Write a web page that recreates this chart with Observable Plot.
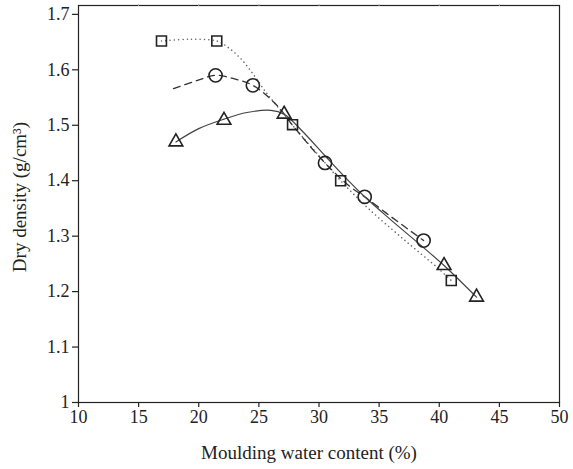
<!DOCTYPE html>
<html>
<head>
<meta charset="utf-8">
<script src="https://cdn.jsdelivr.net/npm/d3@7"></script>
<script src="https://cdn.jsdelivr.net/npm/@observablehq/plot@0.6"></script>
<style>
  html, body { margin: 0; padding: 0; background: #fff; }
  #chart svg { display: block; }
</style>
</head>
<body>
<div id="chart"></div>
<script>
// Tick values
const xTicks = [10, 15, 20, 25, 30, 35, 40, 45, 50];
const yTicks = [1, 1.1, 1.2, 1.3, 1.4, 1.5, 1.6, 1.7];

// Measured points (moulding water content %, dry density g/cm³)
const squareX = [16.9, 21.5, 27.8, 31.8, 41.0];
const squareY = [1.652, 1.652, 1.501, 1.400, 1.220];
const circleX = [21.4, 24.5, 30.5, 33.8, 38.7];
const circleY = [1.590, 1.572, 1.432, 1.371, 1.292];
const triangleX = [18.1, 22.1, 27.1, 40.4, 43.1];
const triangleY = [1.470, 1.509, 1.520, 1.247, 1.190];

// Fitted compaction curves
const dottedX = [16.9, 19.2, 21.5, 22.4, 23.5, 24.6, 25.5, 26.5, 27.8, 30.0, 31.8, 34.1, 37.0, 39.8, 41.0];
const dottedY = [1.652, 1.655, 1.652, 1.641, 1.620, 1.590, 1.562, 1.535, 1.500, 1.445, 1.400, 1.350, 1.295, 1.244, 1.220];
const dashedX = [17.9, 19.9, 21.4, 22.9, 24.5, 26.5, 27.8, 30.5, 32.6, 33.8, 36.0, 38.7];
const dashedY = [1.566, 1.581, 1.590, 1.584, 1.572, 1.536, 1.500, 1.432, 1.389, 1.371, 1.335, 1.292];
const solidX = [18.1, 20.0, 22.1, 24.0, 26.0, 27.1, 28.5, 30.5, 32.0, 33.8, 36.0, 38.5, 40.4, 43.1];
const solidY = [1.470, 1.494, 1.511, 1.523, 1.527, 1.520, 1.492, 1.445, 1.410, 1.371, 1.329, 1.283, 1.247, 1.190];

const zip = (xs, ys) => xs.map((x, i) => ({x, y: ys[i]}));

const ink = "#222";
const font = "'Liberation Serif', 'DejaVu Serif', serif";

const chart = Plot.plot({
  width: 573,
  height: 469,
  marginLeft: 78,
  marginRight: 14,
  marginTop: 5,
  marginBottom: 67,
  style: {fontFamily: font, fontSize: "18px", color: ink, background: "#fff"},
  x: {domain: [10, 50]},
  y: {domain: [1, 1.716]},
  marks: [
    Plot.frame({stroke: ink, strokeWidth: 1.2}),
    Plot.axisX({ticks: xTicks, tickSize: 5, tickPadding: 3, label: null, stroke: ink, strokeWidth: 1.2, fontSize: 18}),
    Plot.axisX({anchor: "top", ticks: xTicks.slice(1, -1), tickSize: 2, tickFormat: () => "", label: null, stroke: "#aaa"}),
    Plot.axisY({ticks: yTicks, tickSize: 6, tickPadding: 3, label: null, stroke: ink, strokeWidth: 1.2, fontSize: 18, tickFormat: d => d3.format("")(+d.toFixed(1))}),
    Plot.line(zip(dottedX, dottedY), {x: "x", y: "y", curve: "catmull-rom", stroke: "#666", strokeWidth: 1.5, strokeDasharray: "0.1 4.2", strokeLinecap: "round"}),
    Plot.line(zip(dashedX, dashedY), {x: "x", y: "y", curve: "catmull-rom", stroke: "#333", strokeWidth: 1.3, strokeDasharray: "7 5"}),
    Plot.line(zip(solidX, solidY), {x: "x", y: "y", curve: "catmull-rom", stroke: "#444", strokeWidth: 1.2}),
    Plot.dot(zip(squareX, squareY), {x: "x", y: "y", symbol: "square", r: 5.6, stroke: ink, strokeWidth: 1.6, fill: "none"}),
    Plot.dot(zip(circleX, circleY), {x: "x", y: "y", symbol: "circle", r: 6.6, stroke: ink, strokeWidth: 1.6, fill: "none"}),
    Plot.dot(zip(triangleX, triangleY), {x: "x", y: "y", symbol: "triangle", r: 5.1, stroke: ink, strokeWidth: 1.6, fill: "none"}),
    Plot.text(["Moulding water content (%)"], {frameAnchor: "bottom", dx: -10, dy: 56, fontSize: 19, fill: ink}),
    Plot.text(["Dry density (g/cm³)"], {frameAnchor: "left", textAnchor: "middle", dx: -59, dy: -7, rotate: -90, fontSize: 19, fill: ink})
  ]
});

document.getElementById("chart").appendChild(chart);
</script>
</body>
</html>
